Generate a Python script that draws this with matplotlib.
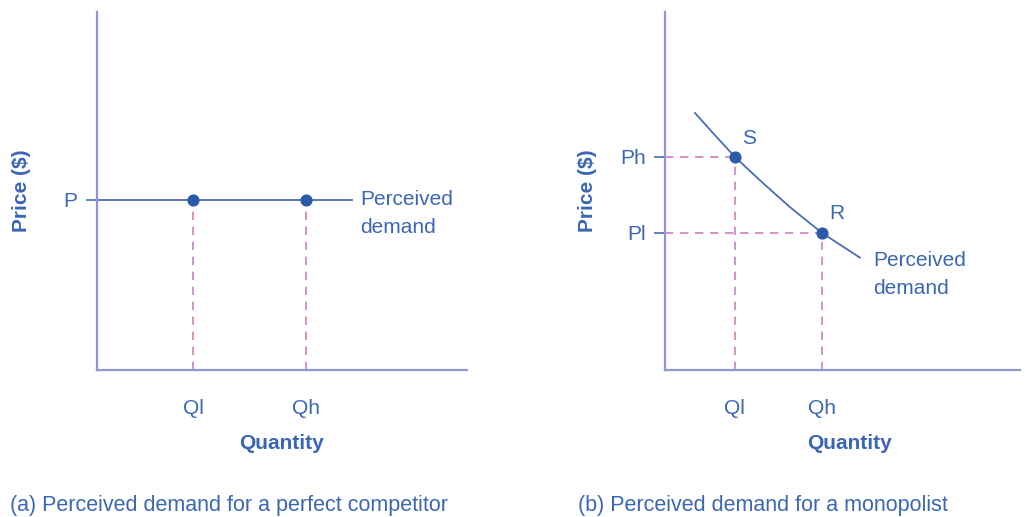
import matplotlib
matplotlib.use("Agg")
import matplotlib.pyplot as plt

plt.rcParams['font.family'] = ['Liberation Sans', 'DejaVu Sans']

# ---- data (arbitrary units 0..10) ----
# Panel (a): perfect competitor
a_price = 4.75
a_line_end = 6.89
a_q_ticks = [2.6, 5.65]
a_q_labels = ['Ql', 'Qh']
a_p_labels = ['P']

# Panel (b): monopolist
b_curve_q = [0.845, 1.35, 1.97, 2.76, 3.52, 4.42, 5.49]
b_curve_p = [7.18, 6.62, 5.95, 5.22, 4.55, 3.83, 3.14]
b_points_q = [1.97, 4.42]
b_points_p = [5.95, 3.83]
b_point_labels = ['S', 'R']
b_q_labels = ['Ql', 'Qh']
b_p_labels = ['Ph', 'Pl']

captions = ['(a) Perceived demand for a perfect competitor',
            '(b) Perceived demand for a monopolist']

TEXT = '#3b66b5'
AXIS = '#8d98d4'
LINE = '#4a6cb3'
DOT = '#2b5aa8'
DASH = '#cc80bf'
FS = 15

W, H = 1025, 517
fig = plt.figure(figsize=(W / 100, H / 100), dpi=100)


def make_axes(x0, x1, y_top, y_bot):
    ax = fig.add_axes([x0 / W, (H - y_bot) / H, (x1 - x0) / W, (y_bot - y_top) / H])
    ax.set_xlim(0, 10)
    ax.set_ylim(0, 10)
    for s in ['top', 'right']:
        ax.spines[s].set_visible(False)
    for s in ['left', 'bottom']:
        ax.spines[s].set_color(AXIS)
        ax.spines[s].set_linewidth(1.6)
    ax.patch.set_alpha(0)
    ax.tick_params(axis='x', length=0, pad=21, labelsize=FS, labelcolor=TEXT)
    ax.tick_params(axis='y', length=8, width=1.2, color=LINE, pad=6,
                   labelsize=FS, labelcolor=TEXT)
    ax.set_xlabel('Quantity', fontsize=FS, fontweight='bold', color=TEXT)
    ax.set_ylabel('Price ($)', fontsize=FS, fontweight='bold', color=TEXT)
    return ax


dash = (0, (5, 4))

# ---- panel (a) ----
axa = make_axes(97, 467, 12, 370)
axa.plot([0, a_line_end], [a_price, a_price], color=LINE, lw=1.3)
for q in a_q_ticks:
    axa.plot([q, q], [0, a_price], color=DASH, lw=1.2, ls=dash)
axa.scatter(a_q_ticks, [a_price] * len(a_q_ticks), s=60, color=DOT, zorder=5)
axa.set_xticks(a_q_ticks, a_q_labels)
axa.set_yticks([a_price], a_p_labels)
axa.text(a_line_end + 0.22, a_price, 'Perceived', fontsize=FS, color=TEXT,
         va='center', ha='left')
axa.text(a_line_end + 0.22, a_price - 0.78, 'demand', fontsize=FS, color=TEXT,
         va='center', ha='left')
axa.yaxis.set_label_coords(-0.203, 0.5)
axa.xaxis.set_label_coords(0.5, -0.205)
axa.xaxis.label.set_va('center')
axa.yaxis.label.set_va('center')

# ---- panel (b) ----
axb = make_axes(665, 1020, 12, 370)
axb.plot(b_curve_q, b_curve_p, color=LINE, lw=1.3)
for q, p in zip(b_points_q, b_points_p):
    axb.plot([q, q], [0, p], color=DASH, lw=1.2, ls=dash)
    axb.plot([0, q], [p, p], color=DASH, lw=1.2, ls=dash)
axb.scatter(b_points_q, b_points_p, s=60, color=DOT, zorder=5)
for q, p, lab in zip(b_points_q, b_points_p, b_point_labels):
    axb.text(q + 0.2, p + 0.53, lab, fontsize=FS, color=TEXT, ha='left', va='center')
axb.set_xticks(b_points_q, b_q_labels)
axb.set_yticks(b_points_p, b_p_labels)
axb.text(b_curve_q[-1] + 0.37, b_curve_p[-1] - 0.07, 'Perceived', fontsize=FS,
         color=TEXT, va='center', ha='left')
axb.text(b_curve_q[-1] + 0.37, b_curve_p[-1] - 0.85, 'demand', fontsize=FS,
         color=TEXT, va='center', ha='left')
axb.yaxis.set_label_coords(-0.217, 0.5)
axb.xaxis.set_label_coords(0.521, -0.205)
axb.xaxis.label.set_va('center')
axb.yaxis.label.set_va('center')

# ---- captions ----
fig.text(10 / W, 1 - 505 / H, captions[0], fontsize=15.5, color=TEXT, va='center', ha='left')
fig.text(578 / W, 1 - 505 / H, captions[1], fontsize=15.5, color=TEXT, va='center', ha='left')

fig.savefig('out.png', dpi=100)
